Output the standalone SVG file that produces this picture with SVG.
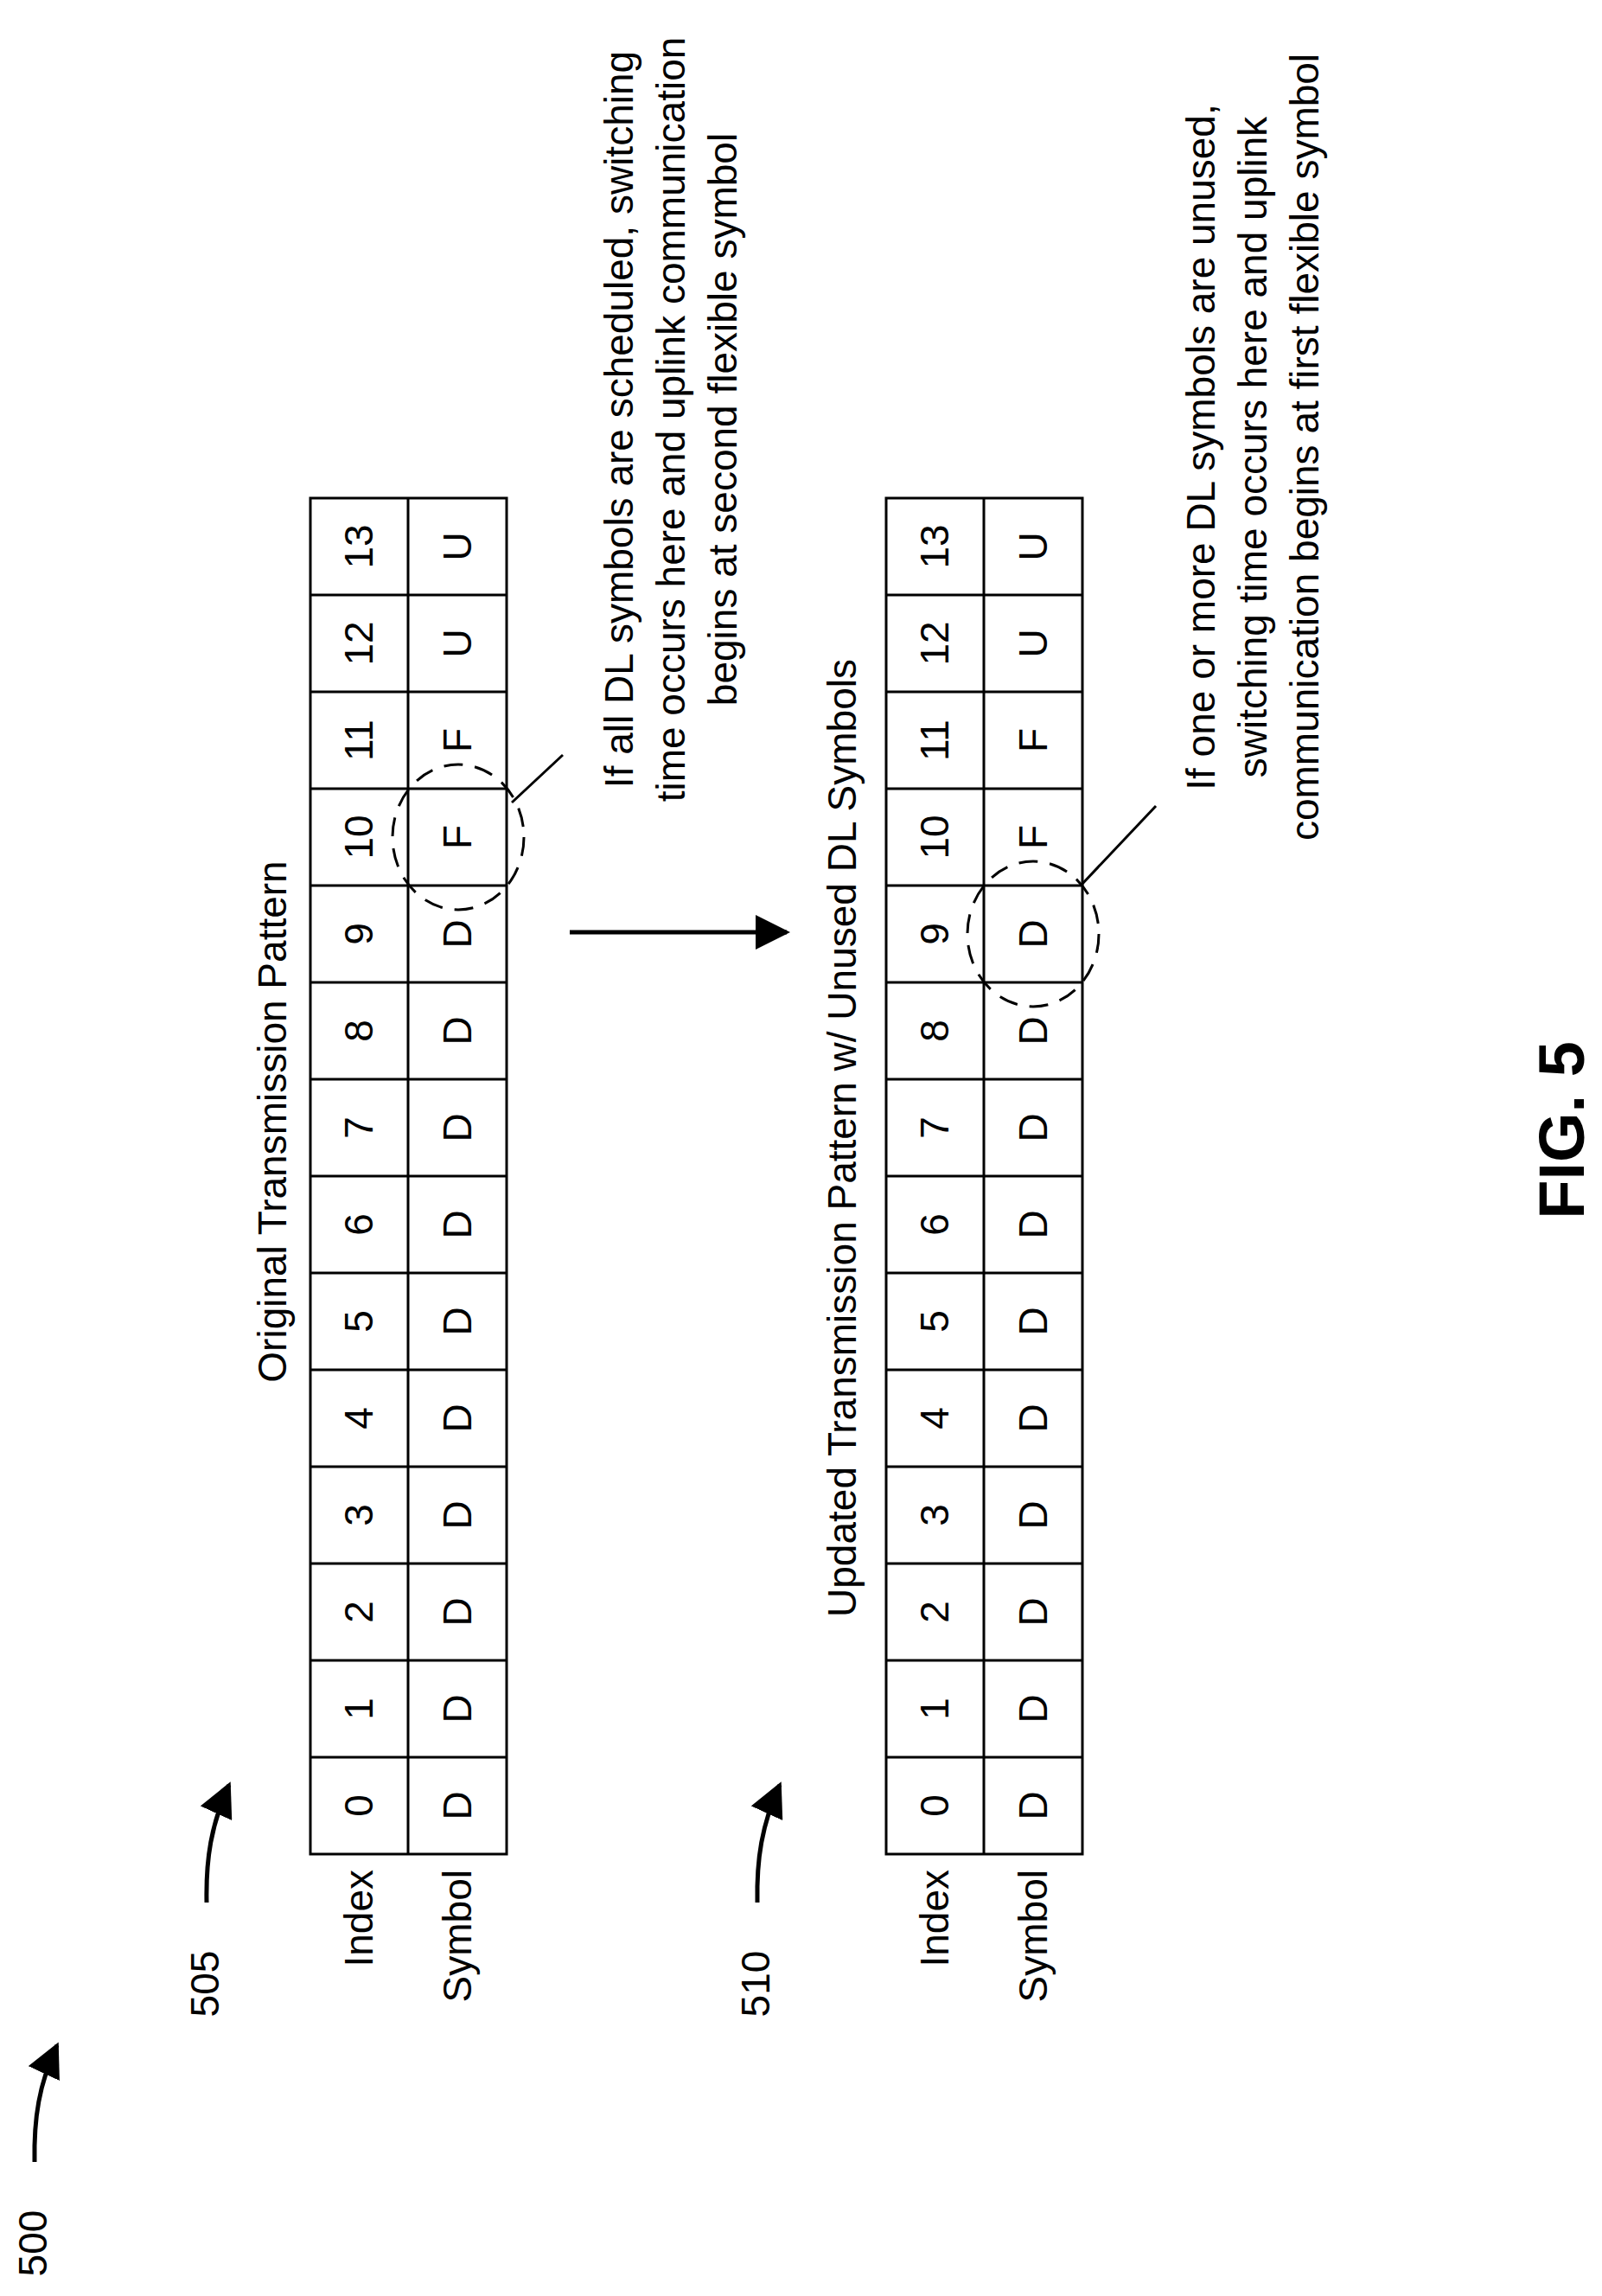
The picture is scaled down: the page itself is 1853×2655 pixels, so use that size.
<svg xmlns="http://www.w3.org/2000/svg" width="1853" height="2655" viewBox="0 0 1853 2655">
<style>
text{font-family:"Liberation Sans",Arial,sans-serif;font-size:46px;fill:#000}
.c{text-anchor:middle}
.e{text-anchor:end}
.cell{fill:#fff;stroke:#000;stroke-width:3}
.dash{fill:none;stroke:#000;stroke-width:3;stroke-dasharray:22 14}
.ln{fill:none;stroke:#000;stroke-width:3}
.arr{fill:none;stroke:#000;stroke-width:5}
</style>
<defs>
<marker id="ah" viewBox="0 0 10 10" refX="9" refY="5" markerWidth="10" markerHeight="10" markerUnits="userSpaceOnUse" orient="auto"><path d="M0,0L10,5L0,10z"/></marker>
<marker id="ah2" viewBox="0 0 10 10" refX="9" refY="5" markerWidth="8" markerHeight="8" orient="auto"><path d="M0,0L10,5L0,10z"/></marker>
</defs>
<g id="label-500"><text class="c" transform="translate(54,2594) rotate(-90)">500</text></g>
<g id="label-505"><text class="c" transform="translate(253,2294) rotate(-90)">505</text></g>
<g id="label-510"><text class="c" transform="translate(890,2294) rotate(-90)">510</text></g>
<g id="title-505"><text class="c" transform="translate(331,1297) rotate(-90)">Original Transmission Pattern</text></g>
<g id="title-510"><text class="c" transform="translate(990,1316) rotate(-90)">Updated Transmission Pattern w/ Unused DL Symbols</text></g>
<g id="table-505">
<rect class="cell" x="359" y="576" width="227" height="1568"/>
<line class="ln" x1="472" y1="576" x2="472" y2="2144"/>
<path class="ln" d="M359,688H586M359,800H586M359,912H586M359,1024H586M359,1136H586M359,1248H586M359,1360H586M359,1472H586M359,1584H586M359,1696H586M359,1808H586M359,1920H586M359,2032H586"/>
<g class="c">
<text class="c" transform="translate(431,2088) rotate(-90)">0</text><text class="c" transform="translate(545,2088) rotate(-90)">D</text>
<text class="c" transform="translate(431,1976) rotate(-90)">1</text><text class="c" transform="translate(545,1976) rotate(-90)">D</text>
<text class="c" transform="translate(431,1864) rotate(-90)">2</text><text class="c" transform="translate(545,1864) rotate(-90)">D</text>
<text class="c" transform="translate(431,1752) rotate(-90)">3</text><text class="c" transform="translate(545,1752) rotate(-90)">D</text>
<text class="c" transform="translate(431,1640) rotate(-90)">4</text><text class="c" transform="translate(545,1640) rotate(-90)">D</text>
<text class="c" transform="translate(431,1528) rotate(-90)">5</text><text class="c" transform="translate(545,1528) rotate(-90)">D</text>
<text class="c" transform="translate(431,1416) rotate(-90)">6</text><text class="c" transform="translate(545,1416) rotate(-90)">D</text>
<text class="c" transform="translate(431,1304) rotate(-90)">7</text><text class="c" transform="translate(545,1304) rotate(-90)">D</text>
<text class="c" transform="translate(431,1192) rotate(-90)">8</text><text class="c" transform="translate(545,1192) rotate(-90)">D</text>
<text class="c" transform="translate(431,1080) rotate(-90)">9</text><text class="c" transform="translate(545,1080) rotate(-90)">D</text>
<text class="c" transform="translate(431,968) rotate(-90)">10</text><text class="c" transform="translate(545,968) rotate(-90)">F</text>
<text class="c" transform="translate(431,856) rotate(-90)">11</text><text class="c" transform="translate(545,856) rotate(-90)">F</text>
<text class="c" transform="translate(431,744) rotate(-90)">12</text><text class="c" transform="translate(545,744) rotate(-90)">U</text>
<text class="c" transform="translate(431,632) rotate(-90)">13</text><text class="c" transform="translate(545,632) rotate(-90)">U</text>
</g>
<text class="e" transform="translate(431,2162) rotate(-90)">Index</text>
<text class="e" transform="translate(545,2162) rotate(-90)">Symbol</text>
</g>
<g id="table-510">
<rect class="cell" x="1025" y="576" width="227" height="1568"/>
<line class="ln" x1="1138" y1="576" x2="1138" y2="2144"/>
<path class="ln" d="M1025,688H1252M1025,800H1252M1025,912H1252M1025,1024H1252M1025,1136H1252M1025,1248H1252M1025,1360H1252M1025,1472H1252M1025,1584H1252M1025,1696H1252M1025,1808H1252M1025,1920H1252M1025,2032H1252"/>
<text class="c" transform="translate(1097,2088) rotate(-90)">0</text><text class="c" transform="translate(1211,2088) rotate(-90)">D</text>
<text class="c" transform="translate(1097,1976) rotate(-90)">1</text><text class="c" transform="translate(1211,1976) rotate(-90)">D</text>
<text class="c" transform="translate(1097,1864) rotate(-90)">2</text><text class="c" transform="translate(1211,1864) rotate(-90)">D</text>
<text class="c" transform="translate(1097,1752) rotate(-90)">3</text><text class="c" transform="translate(1211,1752) rotate(-90)">D</text>
<text class="c" transform="translate(1097,1640) rotate(-90)">4</text><text class="c" transform="translate(1211,1640) rotate(-90)">D</text>
<text class="c" transform="translate(1097,1528) rotate(-90)">5</text><text class="c" transform="translate(1211,1528) rotate(-90)">D</text>
<text class="c" transform="translate(1097,1416) rotate(-90)">6</text><text class="c" transform="translate(1211,1416) rotate(-90)">D</text>
<text class="c" transform="translate(1097,1304) rotate(-90)">7</text><text class="c" transform="translate(1211,1304) rotate(-90)">D</text>
<text class="c" transform="translate(1097,1192) rotate(-90)">8</text><text class="c" transform="translate(1211,1192) rotate(-90)">D</text>
<text class="c" transform="translate(1097,1080) rotate(-90)">9</text><text class="c" transform="translate(1211,1080) rotate(-90)">D</text>
<text class="c" transform="translate(1097,968) rotate(-90)">10</text><text class="c" transform="translate(1211,968) rotate(-90)">F</text>
<text class="c" transform="translate(1097,856) rotate(-90)">11</text><text class="c" transform="translate(1211,856) rotate(-90)">F</text>
<text class="c" transform="translate(1097,744) rotate(-90)">12</text><text class="c" transform="translate(1211,744) rotate(-90)">U</text>
<text class="c" transform="translate(1097,632) rotate(-90)">13</text><text class="c" transform="translate(1211,632) rotate(-90)">U</text>
<text class="e" transform="translate(1097,2162) rotate(-90)">Index</text>
<text class="e" transform="translate(1211,2162) rotate(-90)">Symbol</text>
</g>
<g id="note-505">
<text class="c" transform="translate(732,485) rotate(-90)">If all DL symbols are scheduled, switching</text>
<text class="c" transform="translate(792,485) rotate(-90)">time occurs here and uplink communication</text>
<text class="c" transform="translate(852,485) rotate(-90)">begins at second flexible symbol</text>
</g>
<g id="note-510">
<text class="c" transform="translate(1405,517) rotate(-90)">If one or more DL symbols are unused,</text>
<text class="c" transform="translate(1465,517) rotate(-90)">switching time occurs here and uplink</text>
<text class="c" transform="translate(1525,517) rotate(-90)">communication begins at first flexible symbol</text>
</g>
<g id="fig-label"><text class="c" style="font-size:74px;font-weight:bold" transform="translate(1832,1307) rotate(-90)">FIG. 5</text></g>
<g id="connectors">
<ellipse class="dash" cx="530" cy="968" rx="76" ry="84"/>
<line class="ln" x1="592" y1="928" x2="651" y2="873"/>
<ellipse class="dash" cx="1195" cy="1080" rx="76" ry="84"/>
<line class="ln" x1="1251" y1="1023" x2="1337" y2="932"/>
<line x1="659" y1="1078" x2="910" y2="1078" stroke="#000" stroke-width="5" marker-end="url(#ah2)"/>
<path class="arr" d="M40,2500C39,2450 45,2410 66,2365" marker-end="url(#ah2)"/>
<path class="arr" d="M239,2200C238,2150 244,2110 265,2064" marker-end="url(#ah2)"/>
<path class="arr" d="M876,2200C875,2150 881,2110 902,2064" marker-end="url(#ah2)"/>
</g>
</svg>
